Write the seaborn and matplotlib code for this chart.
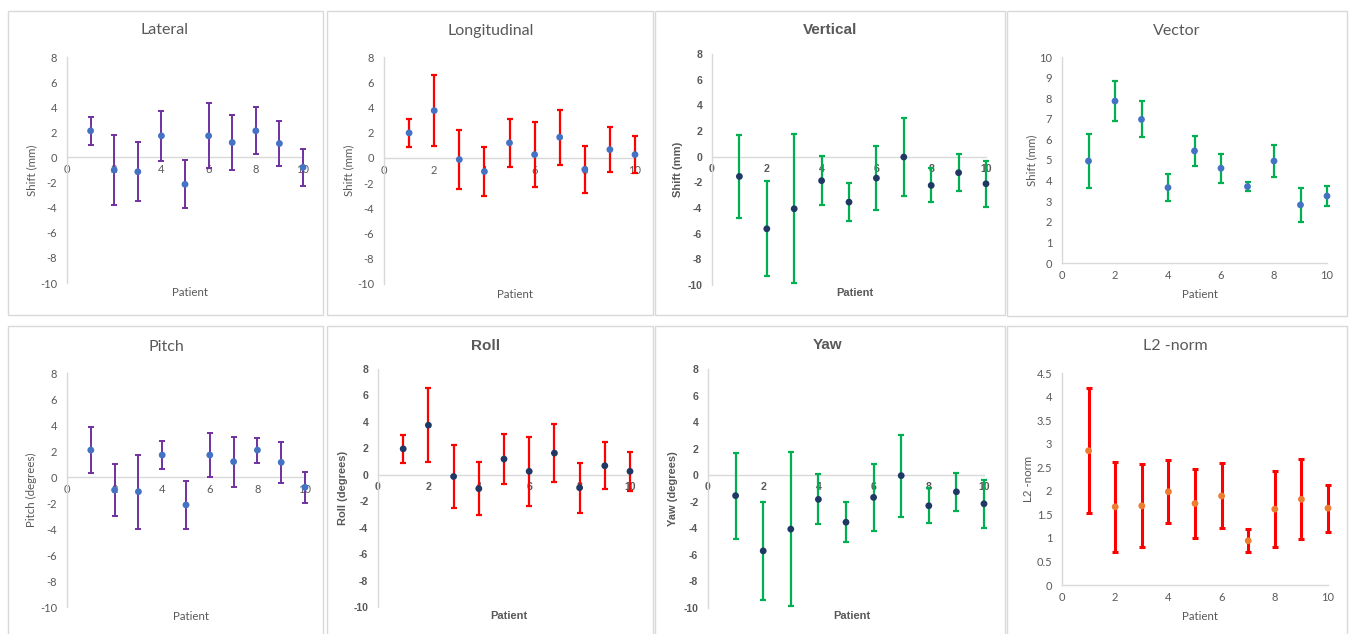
import numpy as np
import pandas as pd
import matplotlib
matplotlib.use("Agg")
import matplotlib.pyplot as plt
import seaborn as sns
from matplotlib.patches import Rectangle

# ---------------- data ----------------
patients = [1, 2, 3, 4, 5, 6, 7, 8, 9, 10]

lateral_mean = [2.12, -1.00, -1.14, 1.72, -2.14, 1.72, 1.19, 2.12, 1.11, -0.79]
lateral_sd = [1.10, 2.80, 2.34, 2.00, 1.92, 2.60, 2.20, 1.88, 1.77, 1.48]

longitudinal_mean = [1.98, 3.75, -0.13, -1.08, 1.19, 0.26, 1.64, -0.92, 0.66, 0.26]
longitudinal_sd = [1.08, 2.80, 2.35, 1.98, 1.92, 2.60, 2.19, 1.89, 1.78, 1.48]

vertical_mean = [-1.54, -5.62, -4.06, -1.87, -3.54, -1.67, -0.03, -2.24, -1.25, -2.11]
vertical_sd = [3.24, 3.71, 5.80, 1.89, 1.49, 2.51, 3.03, 1.33, 1.42, 1.81]

vector_mean = [4.95, 7.86, 6.97, 3.66, 5.44, 4.60, 3.71, 4.95, 2.82, 3.25]
vector_sd = [1.32, 0.96, 0.87, 0.66, 0.71, 0.70, 0.23, 0.77, 0.83, 0.48]

pitch_mean = [2.07, -1.00, -1.13, 1.69, -2.15, 1.69, 1.18, 2.07, 1.13, -0.79]
pitch_sd = [1.79, 1.98, 2.85, 1.09, 1.83, 1.70, 1.92, 0.96, 1.56, 1.20]

roll_mean = [1.96, 3.75, -0.13, -1.05, 1.19, 0.26, 1.64, -0.98, 0.68, 0.26]
roll_sd = [1.08, 2.80, 2.35, 1.98, 1.92, 2.60, 2.19, 1.89, 1.78, 1.48]

yaw_mean = [-1.54, -5.70, -4.06, -1.82, -3.54, -1.67, -0.03, -2.30, -1.25, -2.15]
yaw_sd = [3.24, 3.71, 5.80, 1.89, 1.49, 2.51, 3.08, 1.33, 1.42, 1.81]

l2_mean = [2.85, 1.66, 1.68, 1.98, 1.73, 1.89, 0.94, 1.61, 1.82, 1.63]
l2_sd = [1.33, 0.96, 0.88, 0.67, 0.74, 0.69, 0.24, 0.80, 0.85, 0.50]

# ---------------- style ----------------
sns.set_theme(style="white")
plt.rcParams["font.family"] = ["Lato", "DejaVu Sans"]
plt.rcParams["axes.unicode_minus"] = False

W, H = 1349, 634
fig = plt.figure(figsize=(W / 100, H / 100), dpi=100)
fig.patch.set_facecolor("white")

TXT = "#595959"
AXC = "#D9D9D9"
PURPLE = "#7030A0"
BLUE = "#4472C4"
RED = "#FF0000"
GREEN = "#00B050"
NAVY = "#1F3864"
ORANGE = "#ED7D31"

# panel frames (pixels: x0, y0, x1, y1)
frames = [
    (8, 11, 323, 315), (327, 11, 653, 315), (655, 11, 1005, 315), (1007, 11, 1347, 316),
    (8, 326, 323, 640), (327, 326, 653, 640), (655, 326, 1005, 640), (1007, 326, 1347, 640),
]
for (x0, y0, x1, y1) in frames:
    fig.add_artist(Rectangle((x0 / W, 1 - y1 / H), (x1 - x0) / W, (y1 - y0) / H,
                             transform=fig.transFigure, fill=False,
                             edgecolor=AXC, linewidth=1.0))

panels = [
    dict(title="Lateral", ylabel="Shift (mm)", mean=lateral_mean, sd=lateral_sd,
         ecol=PURPLE, mcol=BLUE, bold=False, sym=True, elw=1.4,
         ax=(67, 303, 57, 283), tpos=(165, 30), ylx=32, xly=293),
    dict(title="Longitudinal", ylabel="Shift (mm)", mean=longitudinal_mean, sd=longitudinal_sd,
         ecol=RED, mcol=BLUE, bold=False, sym=True, elw=1.6,
         ax=(384, 635, 57, 284), tpos=(491, 31), ylx=349, xly=294),
    dict(title="Vertical", ylabel="Shift (mm)", mean=vertical_mean, sd=vertical_sd,
         ecol=GREEN, mcol=NAVY, bold=True, sym=True, elw=1.6,
         ax=(712, 986, 54, 285), tpos=(830, 30), ylx=678, xly=293),
    dict(title="Vector", ylabel="Shift (mm)", mean=vector_mean, sd=vector_sd,
         ecol=GREEN, mcol=BLUE, bold=False, sym=False, elw=1.6,
         ax=(1062, 1327, 57, 263), tpos=(1177, 31), ylx=1032, xly=295,
         ylim=(0, 10), yticks=np.arange(0, 11, 1)),
    dict(title="Pitch", ylabel="Pitch (degrees)", mean=pitch_mean, sd=pitch_sd,
         ecol=PURPLE, mcol=BLUE, bold=False, sym=True, elw=1.4,
         ax=(67, 305, 373, 607), tpos=(166, 347), ylx=31, xly=617),
    dict(title="Roll", ylabel="Roll (degrees)", mean=roll_mean, sd=roll_sd,
         ecol=RED, mcol=NAVY, bold=True, sym=True, elw=1.6,
         ax=(378, 630, 369, 607), tpos=(486, 346), ylx=343, xly=616),
    dict(title="Yaw", ylabel="Yaw (degrees)", mean=yaw_mean, sd=yaw_sd,
         ecol=GREEN, mcol=NAVY, bold=True, sym=True, elw=1.6,
         ax=(708, 984, 369, 608), tpos=(828, 345), ylx=673, xly=616),
    dict(title="L2 -norm", ylabel="L2 -norm", mean=l2_mean, sd=l2_sd,
         ecol=RED, mcol=ORANGE, bold=False, sym=False, elw=2.2,
         ax=(1062, 1328, 373, 585), tpos=(1175, 346), ylx=1028, xly=616,
         ylim=(0, 4.5), yticks=np.arange(0, 4.51, 0.5)),
]

for p in panels:
    xl, xr, yt, yb = p["ax"]
    ax = fig.add_axes([xl / W, 1 - yb / H, (xr - xl) / W, (yb - yt) / H])
    ax.set_facecolor("none")
    df = pd.DataFrame({"Patient": patients, "mean": p["mean"], "sd": p["sd"]})

    ax.errorbar(df["Patient"], df["mean"], yerr=df["sd"], fmt="none",
                ecolor=p["ecol"], elinewidth=p["elw"], capsize=2.2,
                capthick=p["elw"], zorder=2, clip_on=False)
    sns.scatterplot(data=df, x="Patient", y="mean", ax=ax, color=p["mcol"],
                    s=24, edgecolor="none", zorder=3, clip_on=False, legend=False)

    ax.set_xlim(0, 10)
    ax.set_xticks([0, 2, 4, 6, 8, 10])
    if p["sym"]:
        ax.set_ylim(-10, 8)
        ax.set_yticks(np.arange(-10, 9, 2))
        ax.spines["bottom"].set_position(("data", 0))
    else:
        ax.set_ylim(*p["ylim"])
        ax.set_yticks(p["yticks"])
        ax.set_yticklabels([f"{v:g}" for v in p["yticks"]])

    for s in ["top", "right"]:
        ax.spines[s].set_visible(False)
    for s in ["left", "bottom"]:
        ax.spines[s].set_color(AXC)
        ax.spines[s].set_linewidth(1.0)
        ax.spines[s].set_zorder(1)

    if p["bold"]:
        fam = ["Liberation Sans", "DejaVu Sans"]
        fw = "bold"
        tfs, kfs, lfs = 11, 7.6, 8
    else:
        fam = ["Lato", "DejaVu Sans"]
        fw = "normal"
        tfs, kfs, lfs = 11.5, 8, 8.3

    ax.tick_params(axis="both", length=0, colors=TXT, labelsize=kfs)
    ax.tick_params(axis="y", pad=7)
    ax.tick_params(axis="x", pad=5)
    for lab in ax.get_xticklabels() + ax.get_yticklabels():
        lab.set_family(fam)
        lab.set_fontweight(fw)

    w_px = xr - xl
    h_px = yb - yt
    ax.set_ylabel(p["ylabel"], color=TXT, fontsize=lfs, family=fam, fontweight=fw,
                  va="center", ha="center")
    ax.yaxis.set_label_coords((p["ylx"] - xl) / w_px, 0.5)
    ax.set_xlabel("Patient", color=TXT, fontsize=lfs, family=fam, fontweight=fw,
                  va="center", ha="center")
    ax.xaxis.set_label_coords(0.5 + 0.02, -(p["xly"] - yb) / h_px)

    fig.text(p["tpos"][0] / W, 1 - p["tpos"][1] / H, p["title"], ha="center",
             va="center", color=TXT, fontsize=tfs, family=fam, fontweight=fw)

fig.savefig("out.png", dpi=100, facecolor="white")
